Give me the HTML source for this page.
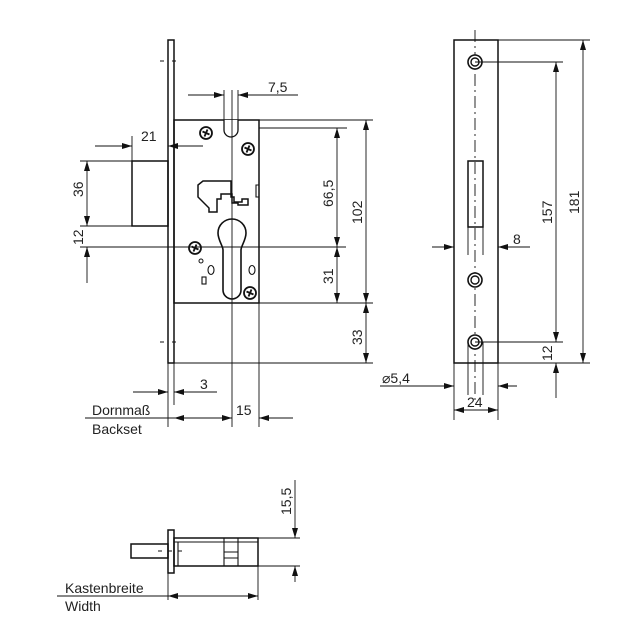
<!DOCTYPE html>
<html><head><style>body{margin:0;background:#fff}svg{display:block}text{font-family:"Liberation Sans",sans-serif;font-size:14px;fill:#222}</style></head>
<body>
<svg width="640" height="640" viewBox="0 0 640 640" xmlns="http://www.w3.org/2000/svg">
<defs>
<marker id="a" viewBox="0 0 10 6" refX="10" refY="3" markerWidth="10" markerHeight="6" orient="auto" markerUnits="userSpaceOnUse"><path d="M0,0L10,3L0,6z" fill="#111"/></marker>
<g id="scr"><circle r="6" fill="#fff" stroke="#111" stroke-width="1.8"/><path d="M-3.5,-1.5L3.5,1.5M-1.5,3.5L1.5,-3.5" stroke="#111" stroke-width="1.8"/></g>
<g id="hole"><circle r="7" fill="#fff" stroke="#111" stroke-width="1.6"/><circle r="4" fill="none" stroke="#111" stroke-width="1.4"/></g>
</defs>
<g stroke="#111" fill="none" stroke-width="0.9">
<rect x="168" y="40" width="6" height="323" stroke-width="1.5"/>
<rect x="174" y="120" width="85" height="183" stroke-width="1.5"/>
<rect x="132" y="161" width="36" height="65" stroke-width="1.5"/>
<path d="M224,120V130A7,7 0 0 0 238,130V120" fill="#fff" stroke-width="1.3"/>
<path d="M259,185h-3v12h3" stroke-width="1.1"/>
<path d="M198,197v-12l5,-4h28v16h3v5h8v-3h6v6h-10v-2h-6v-9h-11v5h-4v13h-8v-4z" stroke-width="1.5"/>
<path d="M218,233A14,14 0 1 1 246,233C246,240 241,246 241,250V290A9,9 0 0 1 223,290V250C223,246 218,240 218,233z" stroke-width="1.6"/>
<circle cx="201" cy="261" r="2" stroke-width="1"/>
<ellipse cx="211" cy="270" rx="3" ry="4.5" stroke-width="1.1"/><ellipse cx="252" cy="270" rx="3" ry="4.5" stroke-width="1.1"/>
<rect x="202" y="277" width="4" height="7" stroke-width="1.1"/>
<use href="#scr" x="206" y="133"/><use href="#scr" x="248" y="149"/><use href="#scr" x="195" y="248"/><use href="#scr" x="250" y="293"/>
<path d="M80,247H346"/>
<path d="M232,90V427"/>
<path d="M160,61h4M172,61h4M160,342h4M172,342h4"/>
<path d="M224,90V120M238,90V120"/>
<path d="M188,95H224" marker-end="url(#a)"/><path d="M298,95H238" marker-end="url(#a)"/>
<path d="M132,136V161"/>
<path d="M95,146H132" marker-end="url(#a)"/><path d="M203,146H168" marker-end="url(#a)"/>
<path d="M80,161H132M80,226H132"/>
<path d="M87,194V161" marker-end="url(#a)"/><path d="M87,194V226" marker-end="url(#a)"/>
<path d="M87,283V247" marker-end="url(#a)"/>
<path d="M259,120H373M259,128H347M259,303H373M174,363H373"/>
<path d="M337,187V128" marker-end="url(#a)"/><path d="M337,187V247" marker-end="url(#a)"/>
<path d="M337,275V247" marker-end="url(#a)"/><path d="M337,275V303" marker-end="url(#a)"/>
<path d="M366,210V120" marker-end="url(#a)"/><path d="M366,210V303" marker-end="url(#a)"/>
<path d="M366,333V303" marker-end="url(#a)"/><path d="M366,333V363" marker-end="url(#a)"/>
<path d="M168,363V427M174,363V405M259,303V427"/>
<path d="M133,392H168" marker-end="url(#a)"/><path d="M217,392H174" marker-end="url(#a)"/>
<path d="M85,418H174"/>
<path d="M200,418H174" marker-end="url(#a)"/><path d="M200,418H232" marker-end="url(#a)"/>
<path d="M293,418H259" marker-end="url(#a)"/>
<rect x="454" y="40" width="44" height="323" stroke-width="1.5"/>
<rect x="468" y="161" width="15" height="66" stroke-width="1.5"/>
<path d="M475,30V400" stroke-dasharray="12,4,2,4"/>
<use href="#hole" x="475" y="62"/><use href="#hole" x="475" y="280"/><use href="#hole" x="475" y="342"/>
<path d="M468,227V255M483,227V255"/>
<path d="M432,247H454" marker-end="url(#a)"/><path d="M530,247H498" marker-end="url(#a)"/>
<path d="M498,40H590M475,62H563M475,342H563M498,363H590"/>
<path d="M556,200V62" marker-end="url(#a)"/><path d="M556,200V342" marker-end="url(#a)"/>
<path d="M556,398V363" marker-end="url(#a)"/>
<path d="M583,200V40" marker-end="url(#a)"/><path d="M583,200V363" marker-end="url(#a)"/>
<path d="M468,342V395M483,342V395M454,363V420M498,363V420"/>
<path d="M380,386H454" marker-end="url(#a)"/><path d="M517,386H498" marker-end="url(#a)"/>
<path d="M476,410H454" marker-end="url(#a)"/><path d="M476,410H498" marker-end="url(#a)"/>
<rect x="168" y="530" width="6" height="43" stroke-width="1.5"/>
<rect x="174" y="538" width="84" height="28" stroke-width="1.5"/>
<path d="M178,542V566M174,542H258M224,538V566M238,538V566M224,552h14M224,558h14" stroke-width="1.1"/>
<rect x="131" y="544" width="37" height="14" stroke-width="1.5"/>
<path d="M158,551h4M168,551h4M178,551h4"/>
<path d="M258,538H300M258,566H300"/>
<path d="M295,522V538" marker-end="url(#a)"/><path d="M295,582V566" marker-end="url(#a)"/><path d="M295,480V522"/>
<path d="M168,573V600M258,566V600"/>
<path d="M57,596H168"/>
<path d="M210,596H168" marker-end="url(#a)"/><path d="M210,596H258" marker-end="url(#a)"/>
</g>
<text x="268" y="92">7,5</text>
<text x="141" y="141">21</text>
<text transform="translate(83,197) rotate(-90)">36</text>
<text transform="translate(83,245) rotate(-90)">12</text>
<text transform="translate(333,207) rotate(-90)">66,5</text>
<text transform="translate(333,284) rotate(-90)">31</text>
<text transform="translate(362,224) rotate(-90)">102</text>
<text transform="translate(362,345) rotate(-90)">33</text>
<text x="200" y="389">3</text>
<text x="236" y="415">15</text>
<text x="92" y="415">Dornmaß</text>
<text x="92" y="434">Backset</text>
<text x="513" y="244">8</text>
<text transform="translate(552,224) rotate(-90)">157</text>
<text transform="translate(579,214) rotate(-90)">181</text>
<text transform="translate(552,361) rotate(-90)">12</text>
<text x="382" y="383">⌀5,4</text>
<text x="467" y="407">24</text>
<text transform="translate(291,515) rotate(-90)">15,5</text>
<text x="65" y="593">Kastenbreite</text>
<text x="65" y="611">Width</text>
</svg>
</body></html>
